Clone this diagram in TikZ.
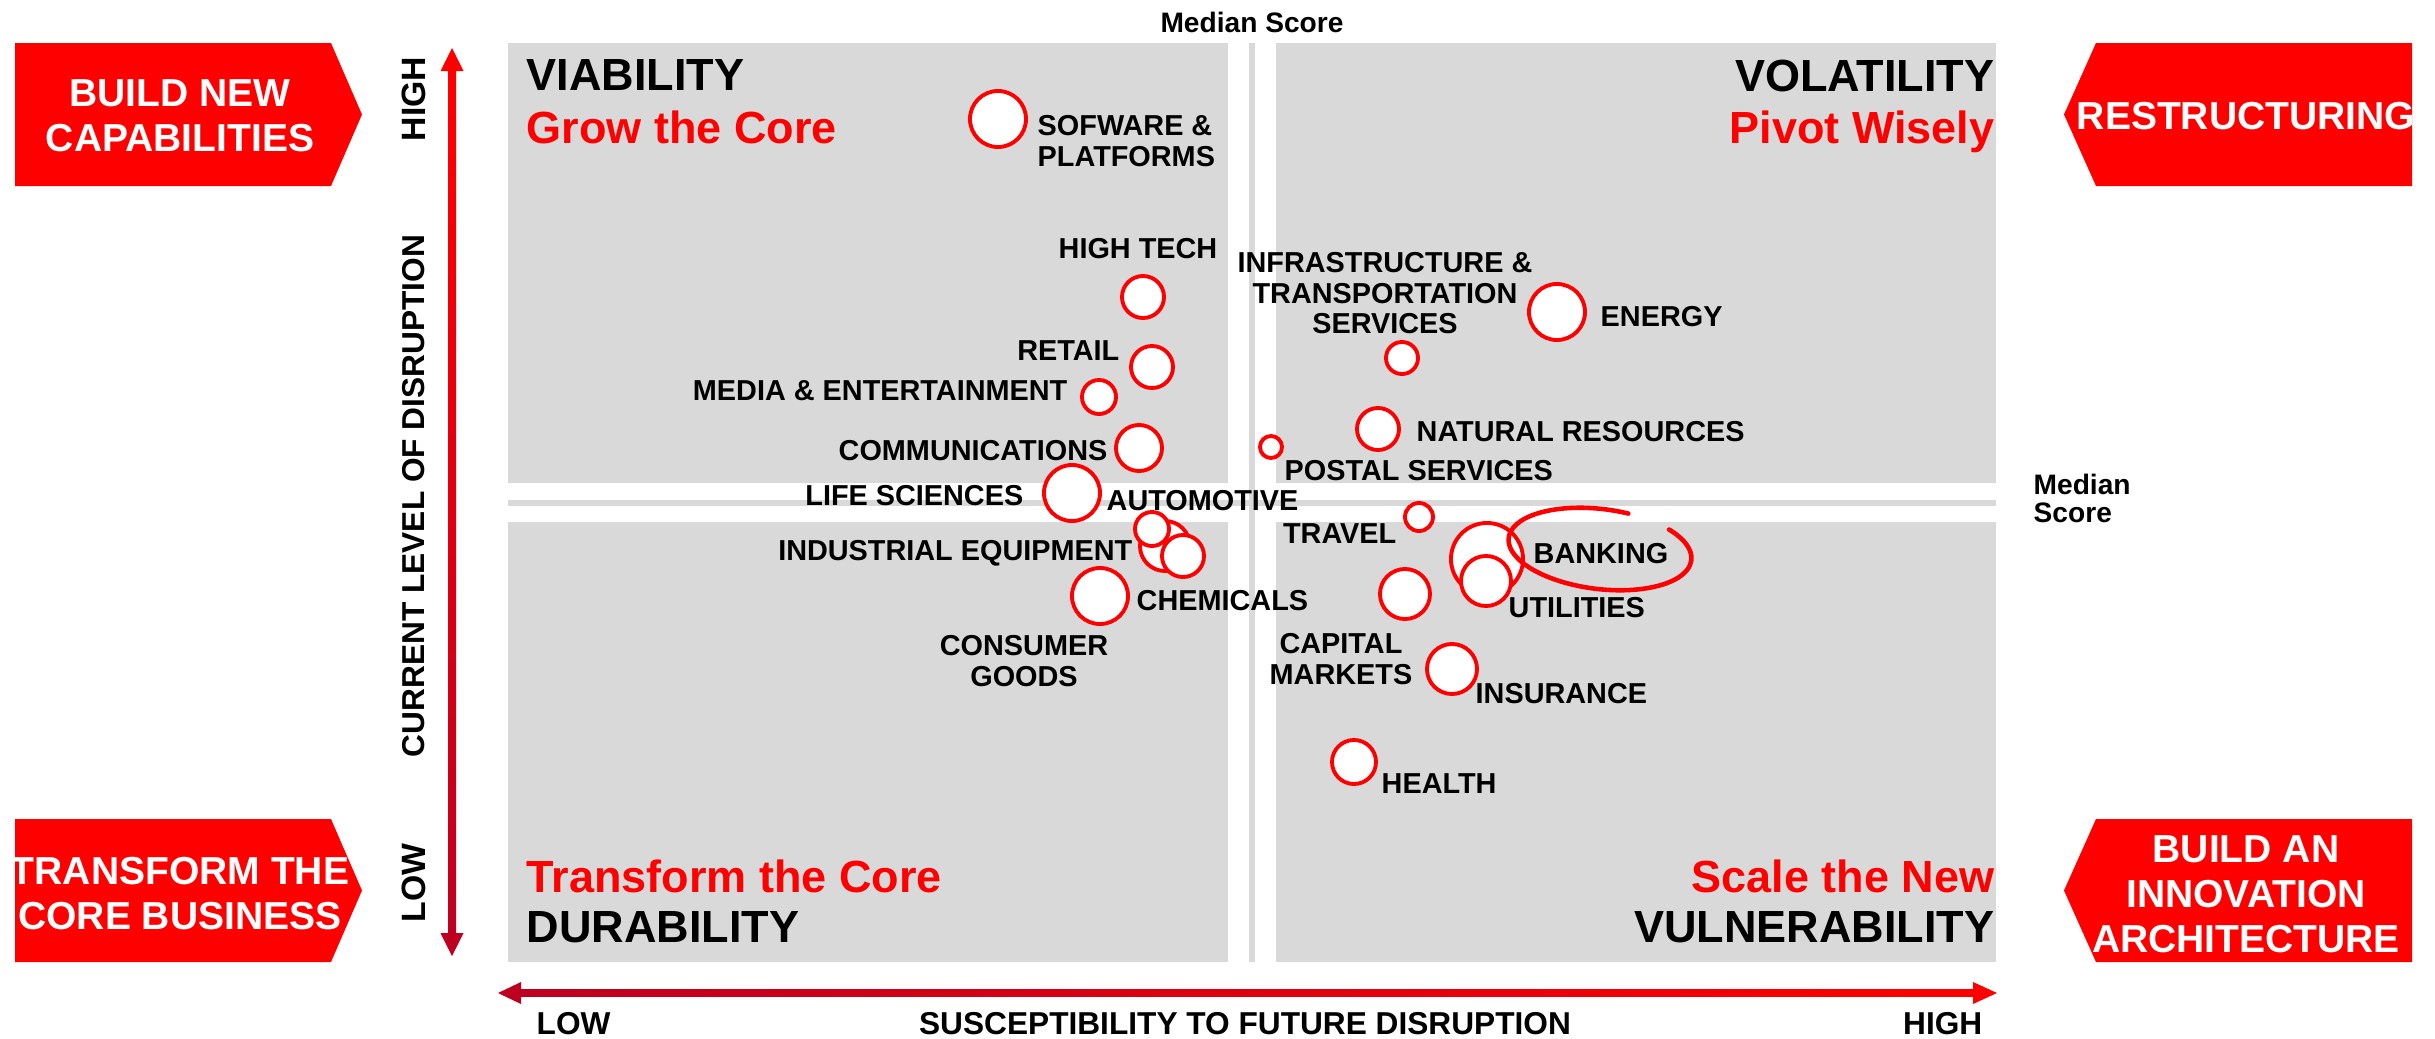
\documentclass[tikz,border=0pt]{standalone}
\usepackage{fontspec}
\setmainfont{Liberation Sans}
\usepackage{tikz}

\begin{document}
\begin{tikzpicture}[x=0.01cm, y=-0.01cm,
  lbl/.style = {inner sep=0, font=\bfseries\fontsize{8.2}{8.6}\selectfont},
  quadtxt/.style = {inner sep=0, font=\bfseries\fontsize{12.8}{15}\selectfont},
  boxtxt/.style = {inner sep=0, text=white, align=center, font=\bfseries\fontsize{11.1}{12.8}\selectfont},
  axistxt/.style = {inner sep=0, font=\bfseries\fontsize{9}{11}\selectfont},
  bubble/.style = {circle, draw=accred, fill=white, line width=1.1pt, inner sep=0}]
  \useasboundingbox (0,0) rectangle (2435,1039);

  \definecolor{accred}{RGB}{255,0,0}
  \definecolor{dkred}{RGB}{190,0,32}
  \definecolor{quadgray}{RGB}{217,217,217}

  % quadrants and median lines
  \foreach \x/\y in {508/43, 1276/43, 508/522, 1276/522}
    \fill[quadgray] (\x,\y) rectangle (\x+720,\y+440);
  \fill[quadgray] (1249,43) rectangle (1255,962);
  \fill[quadgray] (508,500) rectangle (1996,506);

  % side boxes
  \foreach \y in {43, 819}{
    \fill[accred] (15,\y) -- (331,\y) -- (362,\y+71.5) -- (331,\y+143) -- (15,\y+143) -- cycle;
    \fill[accred] (2412,\y) -- (2096,\y) -- (2064,\y+71.5) -- (2096,\y+143) -- (2412,\y+143) -- cycle;
  }
  \node[boxtxt, anchor=north] (bnc) at (180,79) {BUILD NEW\\CAPABILITIES};
  \node[boxtxt, anchor=north] (tcb) at (180,857) {TRANSFORM THE\\CORE BUSINESS};
  \node[boxtxt, anchor=north] (rst) at (2246,102) {RESTRUCTURING};
  \node[boxtxt, anchor=north] (bia) at (2246,835) {BUILD AN\\INNOVATION\\ARCHITECTURE};

  % axes
  \shade[top color=accred, bottom color=dkred] (448,71) rectangle (456,933);
  \fill[accred] (440.5,71) -- (452,48) -- (463.5,71) -- cycle;
  \fill[dkred] (440.5,933) -- (452,956) -- (463.5,933) -- cycle;
  \shade[left color=dkred, right color=accred] (521,989.5) rectangle (1973,996.5);
  \fill[dkred] (521,982) -- (498,993) -- (521,1004) -- cycle;
  \fill[accred] (1973,982) -- (1997,993) -- (1973,1004) -- cycle;

  \node[axistxt, rotate=90, font=\bfseries\fontsize{9.6}{11}\selectfont] (yhigh) at (414,99) {HIGH};
  \node[axistxt, rotate=90, font=\bfseries\fontsize{9.6}{11}\selectfont] (ylow) at (414,883) {LOW};
  \node[axistxt, rotate=90] (ytitle) at (414,496) {CURRENT LEVEL OF DISRUPTION};
  \node[axistxt, anchor=north west] (xlow) at (536,1012) {LOW};
  \node[axistxt, anchor=north] (xtitle) at (1245,1012) {SUSCEPTIBILITY TO FUTURE DISRUPTION};
  \node[axistxt, anchor=north east] (xhigh) at (1983,1012) {HIGH};

  \node[inner sep=0, anchor=north, font=\bfseries\fontsize{8}{8}\selectfont] (medtop) at (1252,11) {Median Score};
  \node[inner sep=0, anchor=north west, align=left, font=\bfseries\fontsize{8}{8}\selectfont] (medright) at (2033,473) {Median\\Score};

  % quadrant titles
  \node[quadtxt, anchor=north west] (viab) at (526,59) {VIABILITY};
  \node[quadtxt, anchor=north west, text=accred] (grow) at (526,110) {Grow the Core};
  \node[quadtxt, anchor=north east] (vola) at (1995,59) {VOLATILITY};
  \node[quadtxt, anchor=north east, text=accred] (pivot) at (1995,110) {Pivot Wisely};
  \node[quadtxt, anchor=north west, text=accred] (trans) at (526,859) {Transform the Core};
  \node[quadtxt, anchor=north west] (dura) at (526,911) {DURABILITY};
  \node[quadtxt, anchor=north east, text=accred] (scale) at (1995,859) {Scale the New};
  \node[quadtxt, anchor=north east] (vuln) at (1995,911) {VULNERABILITY};

  % bubbles, back to front
  \foreach \n/\x/\y/\r in {
    soft/998/119/28,
    hitech/1143/297/21,
    retail/1152/367/21,
    media/1099/397/17,
    comm/1139/448/23,
    life/1072/493/28,
    indus/1165/546/25,
    auto/1152/529/17,
    chem/1183/556/21,
    cons/1100/596/28,
    infra/1402/358/16,
    energy/1557/312/28,
    natres/1378/429/21,
    postal/1271/447/11,
    travel/1419/517/14,
    bank/1487/559/36,
    util/1486/581/25,
    capmk/1405/594/25,
    insur/1452/669/25,
    health/1354/762/22}{
      \node[bubble, minimum size=\r*0.02cm] (\n) at (\x,\y) {};
    }

  % hand-drawn ring round banking
  \draw[accred, line width=1.3pt, line cap=round, shift={(1600,549)}, rotate=-7]
    (-75:92 and 40) arc[start angle=-75, end angle=-404, x radius=92, y radius=40];

  % labels
  \node[lbl, anchor=north west, align=left] (l-soft) at (1037,115) {SOFWARE \&\\PLATFORMS};
  \node[lbl, anchor=north] (l-hitech) at (1138,238) {HIGH TECH};
  \node[lbl, anchor=north east] (l-retail) at (1120,340) {RETAIL};
  \node[lbl, anchor=north east] (l-media) at (1068,380) {MEDIA \& ENTERTAINMENT};
  \node[lbl, anchor=north east] (l-comm) at (1108,440) {COMMUNICATIONS};
  \node[lbl, anchor=north east] (l-life) at (1024,485) {LIFE SCIENCES};
  \node[lbl, anchor=north west] (l-auto) at (1106,490) {AUTOMOTIVE};
  \node[lbl, anchor=north east] (l-indus) at (1133,540) {INDUSTRIAL EQUIPMENT};
  \node[lbl, anchor=north west] (l-chem) at (1136,590) {CHEMICALS};
  \node[lbl, anchor=north, align=center] (l-cons) at (1024,635) {CONSUMER\\GOODS};
  \node[lbl, anchor=north, align=center] (l-infra) at (1385,252) {INFRASTRUCTURE \&\\TRANSPORTATION\\SERVICES};
  \node[lbl, anchor=north west] (l-energy) at (1600,306) {ENERGY};
  \node[lbl, anchor=north west] (l-natres) at (1416,421) {NATURAL RESOURCES};
  \node[lbl, anchor=north west] (l-postal) at (1284,460) {POSTAL SERVICES};
  \node[lbl, anchor=north east] (l-travel) at (1397,523) {TRAVEL};
  \node[lbl, anchor=north west] (l-bank) at (1533,543) {BANKING};
  \node[lbl, anchor=north west] (l-util) at (1508,597) {UTILITIES};
  \node[lbl, anchor=north, align=center] (l-capmk) at (1341,633) {CAPITAL\\MARKETS};
  \node[lbl, anchor=north west] (l-insur) at (1475,683) {INSURANCE};
  \node[lbl, anchor=north west] (l-health) at (1381,773) {HEALTH};
\end{tikzpicture}
\end{document}
